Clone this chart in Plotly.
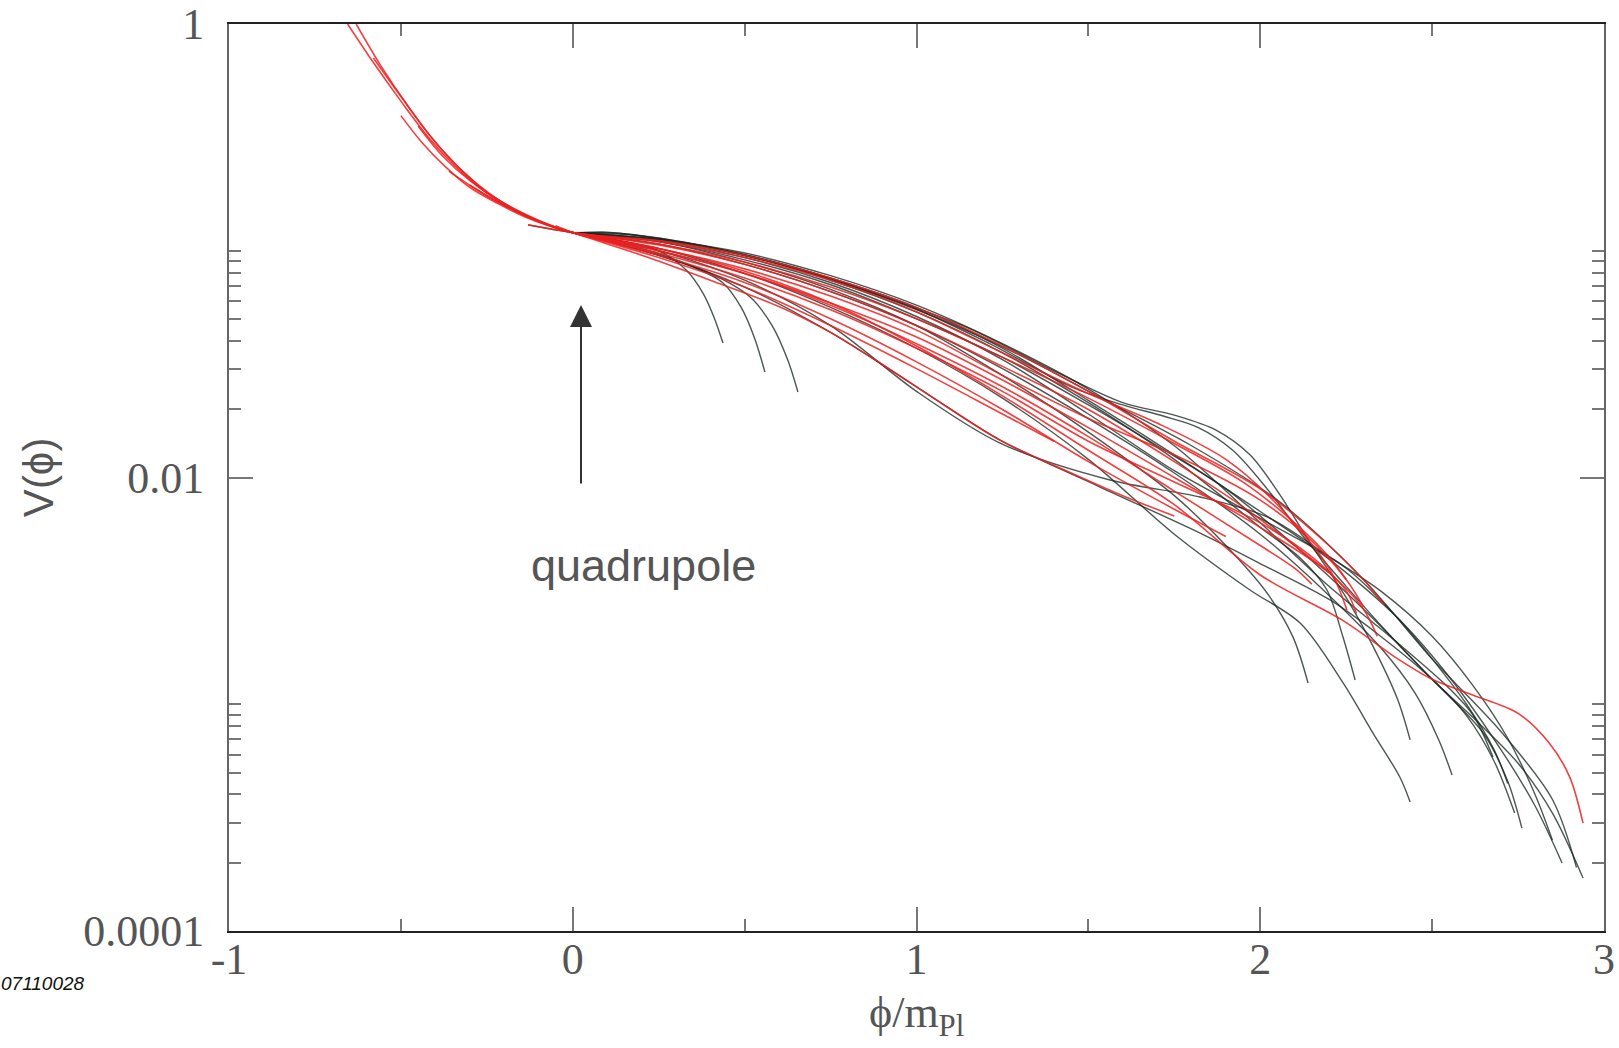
import plotly.graph_objects as go

# ---------------- data (phi/m_Pl, log10 V) ----------------
# red family
R01_phi = [-0.655, -0.58, -0.50, -0.42, -0.34, -0.26, -0.18, -0.10, 0.0, 0.25, 0.5, 0.75, 1.0, 1.25, 1.5, 1.75, 2.0, 2.2, 2.3, 2.34]
R01_lgV = [0.0, -0.17, -0.34, -0.50, -0.63, -0.735, -0.815, -0.87, -0.92, -1.0, -1.10, -1.23, -1.38, -1.57, -1.78, -2.0, -2.22, -2.42, -2.58, -2.70]
R02_phi = [-0.63, -0.56, -0.48, -0.40, -0.32, -0.24, -0.16, -0.08, 0.0, 0.25, 0.5, 0.75, 1.0, 1.25, 1.5, 1.75, 2.0, 2.24, 2.4, 2.5, 2.62, 2.75, 2.84, 2.9, 2.939]
R02_lgV = [0.0, -0.18, -0.36, -0.52, -0.65, -0.75, -0.825, -0.88, -0.92, -0.99, -1.09, -1.23, -1.42, -1.64, -1.88, -2.12, -2.43, -2.63, -2.80, -2.89, -2.96, -3.04, -3.17, -3.32, -3.524]
R03_phi = [-0.50, -0.44, -0.37, -0.30, -0.22, -0.14, -0.07, 0.0, 0.25, 0.5, 0.75, 1.0, 1.25, 1.5, 1.75, 1.95, 2.1, 2.2, 2.25]
R03_lgV = [-0.404, -0.52, -0.63, -0.72, -0.79, -0.85, -0.89, -0.92, -0.97, -1.05, -1.16, -1.30, -1.47, -1.65, -1.85, -2.02, -2.20, -2.35, -2.45]
R04_phi = [-0.30, -0.2, -0.1, 0.0, 0.25, 0.5, 0.75, 1.0, 1.25, 1.5, 1.75, 2.0, 2.15, 2.25, 2.28]
R04_lgV = [-0.71, -0.80, -0.87, -0.92, -1.01, -1.12, -1.26, -1.43, -1.62, -1.84, -2.02, -2.20, -2.35, -2.50, -2.60]
R05_phi = [-0.05, 0.0, 0.216, 0.4, 0.603, 0.75, 0.894, 1.089, 1.243, 1.45, 1.6, 1.75]
R05_lgV = [-0.89, -0.92, -1.028, -1.13, -1.248, -1.36, -1.495, -1.689, -1.835, -1.98, -2.08, -2.17]
R06_phi = [-0.36, -0.28, -0.2, -0.1, 0.0, 0.25, 0.5, 0.75, 1.0, 1.25, 1.5, 1.7, 1.9, 2.05, 2.2, 2.252]
R06_lgV = [-0.65, -0.73, -0.80, -0.87, -0.92, -0.96, -1.03, -1.13, -1.27, -1.45, -1.63, -1.76, -1.92, -2.12, -2.40, -2.584]
R07_phi = [-0.13, -0.06, 0.0, 0.25, 0.5, 0.75, 1.0, 1.25, 1.5, 1.75, 2.0, 2.15, 2.25, 2.3]
R07_lgV = [-0.886, -0.905, -0.92, -0.99, -1.08, -1.20, -1.35, -1.55, -1.74, -1.90, -2.10, -2.28, -2.45, -2.57]
R08_phi = [-0.45, -0.38, -0.3, -0.2, -0.1, 0.0, 0.25, 0.5, 0.75, 1.0, 1.25, 1.5, 1.75, 2.0, 2.1, 2.15]
R08_lgV = [-0.45, -0.58, -0.69, -0.79, -0.865, -0.92, -1.00, -1.10, -1.24, -1.41, -1.60, -1.82, -2.06, -2.30, -2.40, -2.47]
R09_phi = [0.0, 0.25, 0.5, 0.75, 1.0, 1.25, 1.5, 1.75, 1.95, 2.1, 2.2]
R09_lgV = [-0.92, -0.975, -1.06, -1.18, -1.33, -1.51, -1.70, -1.93, -2.13, -2.30, -2.42]
R10_phi = [0.0, 0.25, 0.5, 0.75, 1.0, 1.25, 1.5, 1.75, 1.9]
R10_lgV = [-0.92, -1.02, -1.14, -1.30, -1.49, -1.70, -1.93, -2.14, -2.26]
R11_phi = [-0.58, -0.5, -0.42, -0.34, -0.26, -0.18, -0.1, 0.0, 0.25, 0.5, 0.75, 1.0, 1.25, 1.5, 1.75, 2.0, 2.2, 2.3, 2.36]
R11_lgV = [-0.15, -0.32, -0.485, -0.62, -0.73, -0.81, -0.87, -0.92, -0.955, -1.02, -1.12, -1.25, -1.42, -1.62, -1.84, -2.05, -2.30, -2.45, -2.56]
R12_phi = [0.0, 0.25, 0.5, 0.75, 1.0, 1.25, 1.4]
R12_lgV = [-0.92, -1.03, -1.16, -1.33, -1.52, -1.72, -1.84]

# black family
B01_phi = [0.0, 0.15, 0.4, 0.65, 0.9, 1.15, 1.4, 1.6, 1.75, 1.87, 1.97, 2.05, 2.15, 2.25, 2.33, 2.40, 2.436]
B01_lgV = [-0.92, -0.925, -0.985, -1.075, -1.20, -1.34, -1.53, -1.67, -1.725, -1.79, -1.90, -2.06, -2.30, -2.53, -2.75, -2.98, -3.157]
B02_phi = [0.0, 0.2, 0.45, 0.7, 0.95, 1.2, 1.45, 1.6, 1.72, 1.82, 1.92, 2.02, 2.12, 2.25, 2.38, 2.5, 2.62, 2.75, 2.85, 2.939]
B02_lgV = [-0.92, -0.935, -1.0, -1.10, -1.225, -1.40, -1.60, -1.68, -1.73, -1.78, -1.88, -2.05, -2.25, -2.48, -2.70, -2.89, -3.06, -3.26, -3.48, -3.766]
B03_phi = [0.0, 0.25, 0.5, 0.75, 1.0, 1.25, 1.5, 1.75, 2.0, 2.2, 2.4, 2.55, 2.7, 2.8, 2.878]
B03_lgV = [-0.92, -0.95, -1.02, -1.12, -1.25, -1.43, -1.66, -1.90, -2.15, -2.36, -2.62, -2.88, -3.20, -3.45, -3.70]
B04_phi = [0.0, 0.25, 0.5, 0.75, 1.0, 1.25, 1.5, 1.7, 1.9, 2.1, 2.3, 2.5, 2.65, 2.72, 2.761]
B04_lgV = [-0.92, -0.96, -1.04, -1.15, -1.30, -1.47, -1.68, -1.86, -2.05, -2.30, -2.58, -2.89, -3.13, -3.34, -3.546]
B05_phi = [0.0, 0.25, 0.5, 0.75, 1.0, 1.25, 1.5, 1.75, 2.0, 2.2, 2.4, 2.55, 2.62, 2.677]
B05_lgV = [-0.92, -0.95, -1.01, -1.11, -1.24, -1.41, -1.61, -1.86, -2.20, -2.48, -2.73, -2.93, -3.05, -3.233]
B06_phi = [0.0, 0.25, 0.5, 0.75, 1.0, 1.25, 1.5, 1.75, 2.0, 2.2, 2.35, 2.45, 2.52, 2.558]
B06_lgV = [-0.92, -0.97, -1.06, -1.18, -1.33, -1.52, -1.74, -1.98, -2.25, -2.52, -2.75, -2.95, -3.16, -3.312]
B07_phi = [0.0, 0.25, 0.5, 0.75, 1.0, 1.25, 1.5, 1.75, 1.97, 2.116, 2.241, 2.328, 2.406, 2.436]
B07_lgV = [-0.92, -0.99, -1.10, -1.25, -1.43, -1.65, -1.92, -2.25, -2.496, -2.642, -2.906, -3.127, -3.321, -3.431]
B08_phi = [0.0, 0.25, 0.5, 0.75, 1.0, 1.25, 1.5, 1.75, 2.0, 2.12, 2.194, 2.24, 2.276]
B08_lgV = [-0.92, -0.95, -1.02, -1.13, -1.27, -1.45, -1.67, -1.92, -2.22, -2.36, -2.496, -2.70, -2.893]
B09_phi = [0.0, 0.25, 0.5, 0.75, 1.0, 1.25, 1.5, 1.75, 1.9, 2.02, 2.095, 2.139]
B09_lgV = [-0.92, -0.96, -1.05, -1.17, -1.33, -1.55, -1.80, -2.08, -2.30, -2.51, -2.703, -2.906]
B10_phi = [0.0, 0.25, 0.5, 0.75, 1.0, 1.243, 1.563, 1.825, 2.02, 2.203, 2.35, 2.5, 2.62, 2.72, 2.8, 2.85]
B10_lgV = [-0.92, -1.0, -1.13, -1.33, -1.62, -1.848, -2.011, -2.086, -2.174, -2.351, -2.50, -2.70, -2.92, -3.15, -3.40, -3.60]
B11_phi = [0.0, 0.25, 0.5, 0.75, 1.0, 1.243, 1.534, 1.825, 2.02, 2.203, 2.35, 2.5, 2.6, 2.68, 2.74]
B11_lgV = [-0.92, -1.02, -1.16, -1.36, -1.60, -1.835, -2.042, -2.245, -2.395, -2.54, -2.70, -2.89, -3.05, -3.25, -3.48]
B12_phi = [0.0, 0.25, 0.5, 0.75, 1.0, 1.25, 1.5, 1.75, 2.0, 2.25, 2.4, 2.5, 2.6, 2.68, 2.72]
B12_lgV = [-0.92, -0.955, -1.03, -1.14, -1.29, -1.48, -1.72, -1.97, -2.18, -2.40, -2.62, -2.80, -3.0, -3.2, -3.35]
B13_phi = [-0.13, -0.06, 0.0, 0.1, 0.3, 0.55, 0.8, 1.05, 1.3, 1.55, 1.8, 2.05, 2.3, 2.5, 2.7, 2.85, 2.92]
B13_lgV = [-0.886, -0.905, -0.92, -0.918, -0.96, -1.04, -1.15, -1.29, -1.46, -1.66, -1.86, -2.10, -2.45, -2.80, -3.12, -3.42, -3.72]
D01_phi = [0.0, 0.15, 0.25, 0.33, 0.38, 0.41, 0.437]
D01_lgV = [-0.92, -0.96, -1.0, -1.085, -1.19, -1.29, -1.407]
D02_phi = [0.0, 0.2, 0.35, 0.437, 0.49, 0.53, 0.559]
D02_lgV = [-0.92, -0.99, -1.07, -1.142, -1.25, -1.39, -1.535]
D03_phi = [0.0, 0.25, 0.4, 0.516, 0.58, 0.625, 0.655]
D03_lgV = [-0.92, -1.02, -1.10, -1.204, -1.33, -1.48, -1.623]

x_tickvals = [-1, 0, 1, 2, 3]
x_ticktext = ["-1", "0", "1", "2", "3"]
x_minor = [-0.5, 0.5, 1.5, 2.5]
y_tickvals = [1e-4, 1e-2, 1]
y_ticktext = ["0.0001", "0.01", "1"]
y_minor = [2e-4, 3e-4, 4e-4, 5e-4, 6e-4, 7e-4, 8e-4, 9e-4, 1e-3,
           2e-2, 3e-2, 4e-2, 5e-2, 6e-2, 7e-2, 8e-2, 9e-2, 1e-1]

arrow_phi = 0.024
arrow_tail_lgV = -2.033
arrow_tip_lgV = -1.239
label_phi = 0.205
label_lgV = -2.39

red_curves = [(R01_phi, R01_lgV), (R02_phi, R02_lgV), (R03_phi, R03_lgV), (R04_phi, R04_lgV),
              (R05_phi, R05_lgV), (R06_phi, R06_lgV), (R07_phi, R07_lgV), (R08_phi, R08_lgV),
              (R09_phi, R09_lgV), (R10_phi, R10_lgV), (R11_phi, R11_lgV), (R12_phi, R12_lgV)]
black_curves = [(B01_phi, B01_lgV), (B02_phi, B02_lgV), (B03_phi, B03_lgV), (B04_phi, B04_lgV),
                (B05_phi, B05_lgV), (B06_phi, B06_lgV), (B07_phi, B07_lgV), (B08_phi, B08_lgV),
                (B09_phi, B09_lgV), (B10_phi, B10_lgV), (B11_phi, B11_lgV), (B12_phi, B12_lgV),
                (B13_phi, B13_lgV), (D01_phi, D01_lgV), (D02_phi, D02_lgV), (D03_phi, D03_lgV)]

fig = go.Figure()
for phi, lg in black_curves:
    fig.add_trace(go.Scatter(x=phi, y=[10 ** v for v in lg], mode="lines",
                             line=dict(color="rgba(25,40,32,0.78)", width=1.4, shape="spline", smoothing=0.9),
                             showlegend=False, hoverinfo="skip"))
for phi, lg in red_curves:
    fig.add_trace(go.Scatter(x=phi, y=[10 ** v for v in lg], mode="lines",
                             line=dict(color="rgba(238,30,30,0.85)", width=1.6, shape="spline", smoothing=0.9),
                             showlegend=False, hoverinfo="skip"))

tickfont = dict(family="Liberation Serif, Times New Roman, serif", size=44, color="#555")
fig.update_xaxes(range=[-1, 3], tickvals=x_tickvals, ticktext=x_ticktext,
                 ticks="inside", ticklen=24, tickwidth=1.5, tickcolor="#777",
                 showline=True, linecolor="#222", linewidth=2, mirror="ticks",
                 showgrid=False, zeroline=False, tickfont=tickfont, ticklabelstandoff=-12,
                 automargin=False,
                 minor=dict(tickvals=x_minor, ticks="inside", ticklen=12, tickwidth=1.5, tickcolor="#777"))
fig.update_yaxes(type="log", range=[-4, 0], tickvals=y_tickvals, ticktext=y_ticktext,
                 ticks="inside", ticklen=24, tickwidth=1.5, tickcolor="#777",
                 showline=True, linecolor="#666", linewidth=2, mirror="ticks",
                 showgrid=False, zeroline=False, tickfont=tickfont, ticklabelstandoff=14,
                 automargin=False,
                 minor=dict(tickvals=y_minor, ticks="inside", ticklen=12, tickwidth=1.5, tickcolor="#777"))

fig.add_annotation(x=arrow_phi, y=arrow_tip_lgV, ax=arrow_phi, ay=arrow_tail_lgV,
                   xref="x", yref="y", axref="x", ayref="y", text="",
                   showarrow=True, arrowhead=2, arrowsize=2.2, arrowwidth=2, arrowcolor="#333")
fig.add_annotation(x=label_phi, y=label_lgV, xref="x", yref="y", text="quadrupole", showarrow=False,
                   font=dict(family="Liberation Sans, Arial, sans-serif", size=45, color="#555"))
fig.add_annotation(x=1.0, y=-0.093, xref="x", yref="paper", text="ϕ/m<sub>Pl</sub>", showarrow=False,
                   yanchor="middle", font=dict(family="Liberation Serif, Times New Roman, serif", size=44, color="#555"))
fig.add_annotation(x=-0.157, y=0.5, xref="paper", yref="paper", text="V(ϕ)", showarrow=False, textangle=-90,
                   font=dict(family="Liberation Sans, Arial, sans-serif", size=42, color="#555"))
fig.add_annotation(x=-0.1675, y=-0.058, xref="paper", yref="paper", text="07110028", showarrow=False,
                   xanchor="left", yanchor="middle",
                   font=dict(family="Liberation Sans, Arial, sans-serif", size=19, color="#111", style="italic"))

fig.update_layout(width=1619, height=1048, margin=dict(l=229, r=15, t=24, b=117, autoexpand=False),
                  plot_bgcolor="white", paper_bgcolor="white")

fig.write_html("out.html", config={"displayModeBar": False},
               post_script="document.body.style.margin='0';")
